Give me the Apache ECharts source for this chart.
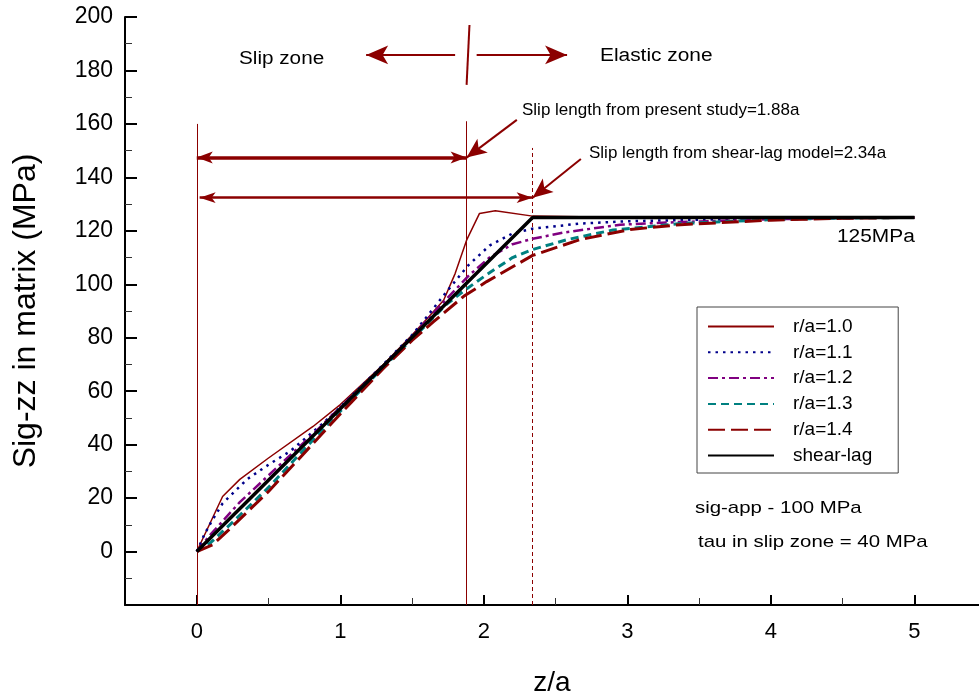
<!DOCTYPE html>
<html><head><meta charset="utf-8">
<script src="https://cdn.jsdelivr.net/npm/echarts@6/dist/echarts.min.js"></script>
<style>html,body{margin:0;padding:0;background:#fff}#c{width:979px;height:698px}</style>
</head><body><div id="c"></div><script>
// ---- data ----
const xTickValues = [0, 1, 2, 3, 4, 5];
const xMinorTickValues = [0.5, 1.5, 2.5, 3.5, 4.5];
const seriesNames = ['r/a=1.0', 'r/a=1.1', 'r/a=1.2', 'r/a=1.3', 'r/a=1.4', 'shear-lag'];

const r10Z = [0, 0.18, 0.3, 0.5, 0.81, 1.0, 1.18, 1.3, 1.5, 1.62, 1.72, 1.8, 1.88, 1.97, 2.08, 2.34, 3, 4, 5];
const r10Y = [0, 20.6, 27, 35, 46.8, 55, 64, 70, 81, 88, 94, 104, 116.5, 126.5, 127.5, 125.5, 125, 125, 125];

const r11Z = [0, 0.05, 0.1, 0.18, 0.35, 0.5, 0.65, 0.88, 1.0, 1.3, 1.5, 1.62, 1.73, 1.89, 2.04, 2.2, 2.34, 2.67, 3.0, 3.37, 4.0, 4.5, 5];
const r11Y = [0, 6, 11, 18, 27, 32.5, 37.5, 48, 54, 70, 81, 89, 96.5, 107, 114.5, 119, 120.8, 122.7, 123.6, 124, 124.6, 124.9, 125];

const r12Z = [0, 0.09, 0.3, 0.58, 0.81, 1.0, 1.3, 1.5, 1.74, 1.9, 2.04, 2.2, 2.34, 2.55, 2.95, 3.37, 4.0, 4.5, 5];
const r12Y = [0, 6, 18.5, 32.5, 44, 54, 69.5, 80.5, 94.5, 103.5, 110, 115, 117, 119.3, 122.3, 123.3, 124.3, 124.8, 125];

const r13Z = [0, 0.1, 0.25, 0.5, 0.7, 1.0, 1.3, 1.5, 1.74, 1.86, 2.02, 2.2, 2.34, 2.58, 2.9, 3.37, 4.0, 4.5, 5];
const r13Y = [0, 3.5, 11, 24, 35.5, 52.5, 69, 79.5, 92.5, 97.5, 103.6, 110, 113, 116.7, 120.3, 122.7, 124.2, 124.8, 125];

const r14Z = [0, 0.11, 0.25, 0.5, 0.7, 1.0, 1.3, 1.5, 1.65, 1.86, 2.02, 2.34, 2.67, 3.02, 3.37, 4.0, 4.5, 5];
const r14Y = [0, 2.5, 9.5, 22.5, 34, 51.5, 68.5, 79, 86, 95.5, 101, 110.8, 116.7, 120.5, 122.3, 124, 124.7, 125];

const shearZ = [0, 2.34, 5];
const shearY = [0, 125, 125];

// ---- annotation geometry (data coordinates) ----
const slipPresent = 1.88, slipShear = 2.34;
const FONT = "'Liberation Sans', Arial, Helvetica, sans-serif";
const DR = '#8B0000';

function pairs(z, y) { return z.map((v, i) => [v, y[i]]); }

const styles = [
  { color: DR, width: 1.5, type: 'solid' },
  { color: '#00008B', width: 2.5, type: [2.5, 5] },
  { color: '#800080', width: 2.5, type: [10, 4, 3, 4] },
  { color: '#008080', width: 3, type: [8, 5] },
  { color: DR, width: 3, type: [17, 6] },
  { color: '#000000', width: 3.5, type: 'solid' }
];
const dataSets = [pairs(r10Z, r10Y), pairs(r11Z, r11Y), pairs(r12Z, r12Y), pairs(r13Z, r13Y), pairs(r14Z, r14Y), pairs(shearZ, shearY)];

const series = seriesNames.map((n, i) => ({
  name: n, type: 'line', data: dataSets[i], xAxisIndex: 0, yAxisIndex: 0,
  symbol: 'none', showSymbol: false, animation: false, z: 3 + i,
  lineStyle: { color: styles[i].color, width: styles[i].width, type: styles[i].type, cap: 'butt' },
  itemStyle: { color: styles[i].color }
}));

function seg(a, b, style, s1, s2, size) {
  return [
    { coord: a, symbol: s1 || 'none', symbolSize: size || 10, lineStyle: style },
    { coord: b, symbol: s2 || 'none', symbolSize: size || 10 }
  ];
}
const thin = { color: DR, width: 1, type: 'solid' };
series.push({
  type: 'line', data: [], xAxisIndex: 0, yAxisIndex: 0, animation: false, z: 10,
  markLine: {
    silent: true, animation: false, label: { show: false }, symbol: ['none', 'none'],
    data: [
      seg([0, -20], [0, 160], thin),
      seg([slipPresent, -20], [slipPresent, 161], thin),
      seg([slipShear, -20], [slipShear, 151], { color: DR, width: 1, type: [4, 3] }),
      seg([0, 147.4], [slipPresent, 147.4], { color: DR, width: 3.5, type: 'solid' }, 'arrow', 'arrow', [9, 16]),
      seg([0.02, 132.4], [slipShear, 132.4], { color: DR, width: 2.5, type: 'solid' }, 'arrow', 'arrow', [8, 16]),
      seg([2.23, 161.5], [slipPresent, 147.4], { color: DR, width: 2, type: 'solid' }, 'none', 'arrow', [13, 20]),
      seg([2.676, 146.9], [slipShear, 132.4], { color: DR, width: 2, type: 'solid' }, 'none', 'arrow', [13, 20]),
      seg([1.80, 185.8], [1.18, 185.8], { color: DR, width: 2, type: 'solid' }, 'none', 'arrow', [14, 22]),
      seg([1.95, 185.8], [2.58, 185.8], { color: DR, width: 2, type: 'solid' }, 'none', 'arrow', [14, 22]),
      seg([1.90, 197], [1.88, 174.6], { color: DR, width: 2, type: 'solid' })
    ]
  }
});

const chart = echarts.init(document.getElementById('c'), null, { renderer: 'canvas' });
const axisText = { fontFamily: FONT, color: '#000' };
chart.setOption({
  backgroundColor: '#fff',
  animation: false,
  textStyle: { fontFamily: FONT },
  grid: { left: 125, top: 17, right: 0, bottom: 93, containLabel: false, outerBoundsMode: 'none' },
  xAxis: [{
    type: 'value', min: -0.5, max: 5.45, position: 'bottom',
    name: 'z/a', nameLocation: 'middle', nameGap: 64,
    nameTextStyle: { fontSize: 28, fontFamily: FONT, color: '#000' },
    axisLine: { show: true, onZero: false, lineStyle: { color: '#000', width: 2 } },
    axisTick: { show: true, inside: true, length: 10, customValues: xTickValues, lineStyle: { color: '#000', width: 2 } },
    axisLabel: { show: true, customValues: xTickValues, fontSize: 22, margin: 16, ...axisText },
    splitLine: { show: false }
  }, {
    type: 'value', min: -0.5, max: 5.45, position: 'bottom', offset: 0,
    axisLine: { show: false, onZero: false },
    axisTick: { show: true, inside: true, length: 7, customValues: xMinorTickValues, lineStyle: { color: '#333', width: 1 } },
    axisLabel: { show: false },
    splitLine: { show: false }
  }],
  yAxis: {
    type: 'value', min: -20, max: 200, interval: 20,
    name: 'Sig-zz in matrix (MPa)', nameLocation: 'middle', nameGap: 83,
    nameTextStyle: { fontSize: 32, fontFamily: FONT, color: '#000' },
    axisLine: { show: true, onZero: false, lineStyle: { color: '#000', width: 2 } },
    axisTick: { show: true, inside: true, length: 12, lineStyle: { color: '#000', width: 2 } },
    minorTick: { show: true, splitNumber: 2, length: 7, lineStyle: { color: '#333', width: 1 } },
    axisLabel: { fontSize: 23, margin: 12, ...axisText, formatter: v => (v === -20 ? '' : String(v)) },
    splitLine: { show: false }
  },
  legend: {
    data: seriesNames, orient: 'vertical', left: 697, top: 307,
    backgroundColor: '#fff', borderColor: '#444', borderWidth: 1, borderRadius: 0,
    padding: [10, 26, 8, 10], itemWidth: 66, itemHeight: 14, itemGap: 6.8,
    itemStyle: { opacity: 0, borderWidth: 0 },
    textStyle: { fontSize: 19, lineHeight: 19, fontFamily: FONT, color: '#000', padding: [0, 0, 0, 14] },
    selectedMode: false
  },
  graphic: [
    { type: 'text', x: 239, y: 59, style: { text: 'Slip zone', fontSize: 18, fontFamily: FONT, fill: '#000', verticalAlign: 'middle' }, scaleX: 1.15 },
    { type: 'text', x: 600, y: 56, style: { text: 'Elastic zone', fontSize: 18, fontFamily: FONT, fill: '#000', verticalAlign: 'middle' }, scaleX: 1.16 },
    { type: 'text', x: 522, y: 110, style: { text: 'Slip length from present study=1.88a', fontSize: 17, fontFamily: FONT, fill: '#000', verticalAlign: 'middle' } },
    { type: 'text', x: 589, y: 153, style: { text: 'Slip length from shear-lag model=2.34a', fontSize: 17, fontFamily: FONT, fill: '#000', verticalAlign: 'middle' } },
    { type: 'text', x: 837, y: 237, style: { text: '125MPa', fontSize: 18, fontFamily: FONT, fill: '#000', verticalAlign: 'middle' }, scaleX: 1.16 },
    { type: 'text', x: 695, y: 508, style: { text: 'sig-app - 100 MPa', fontSize: 17, fontFamily: FONT, fill: '#000', verticalAlign: 'middle' }, scaleX: 1.2 },
    { type: 'text', x: 698, y: 542, style: { text: 'tau in slip zone = 40 MPa', fontSize: 17, fontFamily: FONT, fill: '#000', verticalAlign: 'middle' }, scaleX: 1.2 }
  ],
  series: series
});
</script></body></html>
